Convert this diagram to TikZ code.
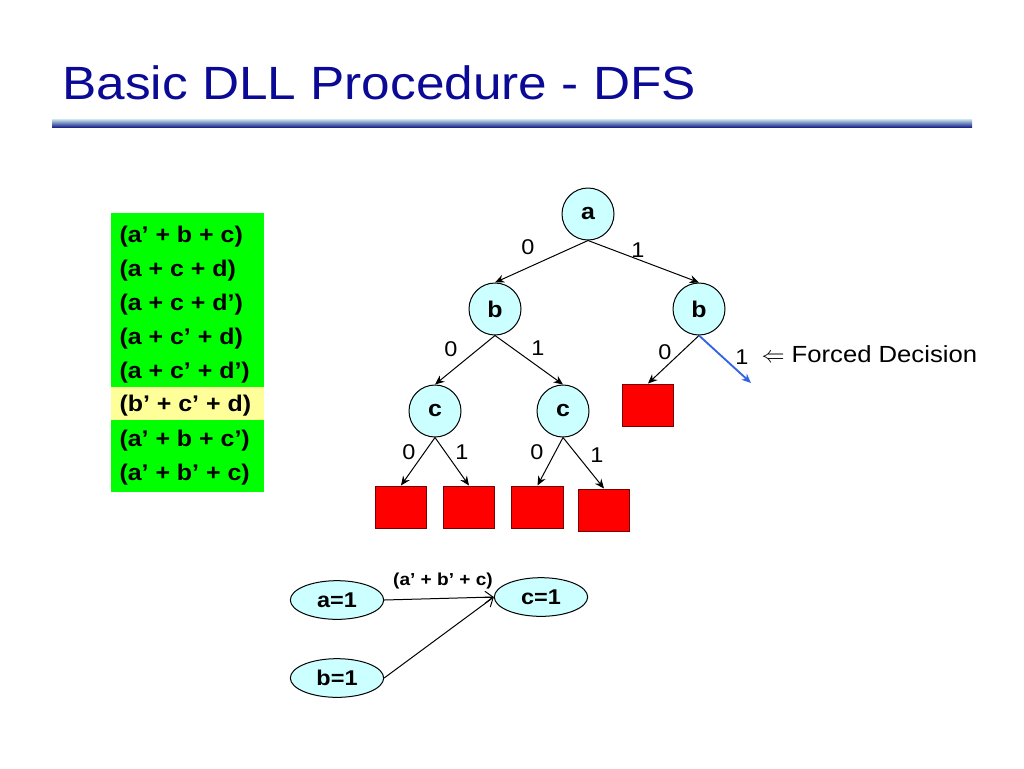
\documentclass[tikz,border=0pt]{standalone}
\usepackage{fontspec}
\setmainfont{Liberation Sans}[FakeStretch=1.1]
\usetikzlibrary{arrows.meta,shapes.geometric}

\definecolor{titleblue}{RGB}{10,10,150}
\definecolor{varcyan}{RGB}{204,255,255}
\definecolor{clausegreen}{RGB}{0,255,0}
\definecolor{clauseyellow}{RGB}{255,255,153}
\definecolor{forcedblue}{RGB}{50,100,230}
\definecolor{conflictborder}{RGB}{120,0,0}

\tikzset{
  var/.style={circle,draw,fill=varcyan,minimum size=39pt,inner sep=0pt,
    font=\bfseries\fontsize{17}{20}\selectfont},
  conflict/.style={draw=conflictborder,fill=red,minimum width=38.5pt,minimum height=31.5pt,inner sep=0pt},
  lit/.style={ellipse,draw,fill=varcyan,minimum width=70pt,minimum height=29pt,inner sep=0pt,
    font=\bfseries\fontsize{16}{19}\selectfont},
  branch/.style={font=\fontsize{16}{19}\selectfont,inner sep=0.75pt},
  clause/.style={anchor=west,inner sep=0.75pt,font=\bfseries\fontsize{17}{20}\selectfont},
  tree/.style={-{Stealth[length=7pt,width=6pt]}},
}

\begin{document}
\begin{tikzpicture}[x=0.75pt,y=0.75pt,yscale=-1,xscale=1,line width=0.75pt]
\useasboundingbox (0,0) rectangle (1024,768);

% Title
\node (title) [anchor=base west,inner sep=0pt,text=titleblue,font=\fontsize{35}{40}\selectfont] at (62,99) {Basic DLL Procedure - DFS};
%Shape: Rectangle (title rule)
\shade [top color={rgb,255:red,200;green,232;blue,238},bottom color={rgb,255:red,30;green,40;blue,140}] (52,119) rectangle (972,127);

%Shape: Rectangle (clause list)
\fill [clausegreen] (111,213) rectangle (264,492);
\fill [clauseyellow] (111,387) rectangle (264,420);
% Text Node
\node (c1) [clause] at (118,237) {(a’ + b + c)};
\node (c2) [clause] at (118,271) {(a + c + d)};
\node (c3) [clause] at (118,305) {(a + c + d’)};
\node (c4) [clause] at (118,339) {(a + c’ + d)};
\node (c5) [clause] at (118,373) {(a + c’ + d’)};
\node (c6) [clause] at (118,406) {(b’ + c’ + d)};
\node (c7) [clause] at (118,441) {(a’ + b + c’)};
\node (c8) [clause] at (118,475) {(a’ + b’ + c)};

%Shape: Circle
\node (a) [var] at (588,214) {a};
\node (bl) [var] at (495,309) {b};
\node (br) [var] at (699,309) {b};
\node (cl) [var] at (435,411) {c};
\node (cr) [var] at (563,411) {c};

%Shape: Square
\node (x1) [conflict] at (401,507) {};
\node (x2) [conflict] at (469,507) {};
\node (x3) [conflict] at (537.5,507) {};
\node (x4) [conflict] at (604,510) {};
\node (x5) [conflict] at (648,405) {};
\coordinate (fd) at (751,383);

%Straight Lines
\draw [tree] (a.south) -- (bl.north);
\draw [tree] (a.south) -- (br.north);
\draw [tree] (bl.south) -- (cl.north);
\draw [tree] (bl.south) -- (cr.north);
\draw [tree] (br.south) -- (x5.north);
\draw [tree,forcedblue,line width=1.4pt] (br.south) -- (fd);
\draw [tree] (cl.south) -- (x1.north);
\draw [tree] (cl.south) -- (x2.north);
\draw [tree] (cr.south) -- (x3.north);
\draw [tree] (cr.south) -- (x4.north);

% Text Node
\node (l1) [branch] at (528,247) {0};
\node (l2) [branch] at (638,250) {1};
\node (l3) [branch] at (451,349) {0};
\node (l4) [branch] at (538,348) {1};
\node (l5) [branch] at (665,352) {0};
\node (l6) [branch] at (742,357) {1};
\node (l7) [branch] at (409,452) {0};
\node (l8) [branch] at (462,452) {1};
\node (l9) [branch] at (537,452) {0};
\node (l10) [branch] at (597,455) {1};
\node (forced) [anchor=west,inner sep=0.75pt,font=\fontsize{17.5}{20}\selectfont] at (760,354) {$\Leftarrow$ Forced Decision};

%Shape: Ellipse
\node (a1) [lit] at (337,600) {a=1};
\node (cc1) [lit] at (541,597) {c=1};
\node (b1) [lit] at (337,678) {b=1};

%Straight Lines
\draw [-{Straight Barb[length=6pt,width=9pt]}] (a1.east) -- (cc1.west);
\draw [-{Straight Barb[length=6pt,width=9pt]}] (b1.east) -- (cc1.west);
% Text Node
\node (why) [inner sep=0.75pt,font=\bfseries\fontsize{13}{15}\selectfont] at (443,581) {(a’ + b’ + c)};

\end{tikzpicture}
\end{document}
